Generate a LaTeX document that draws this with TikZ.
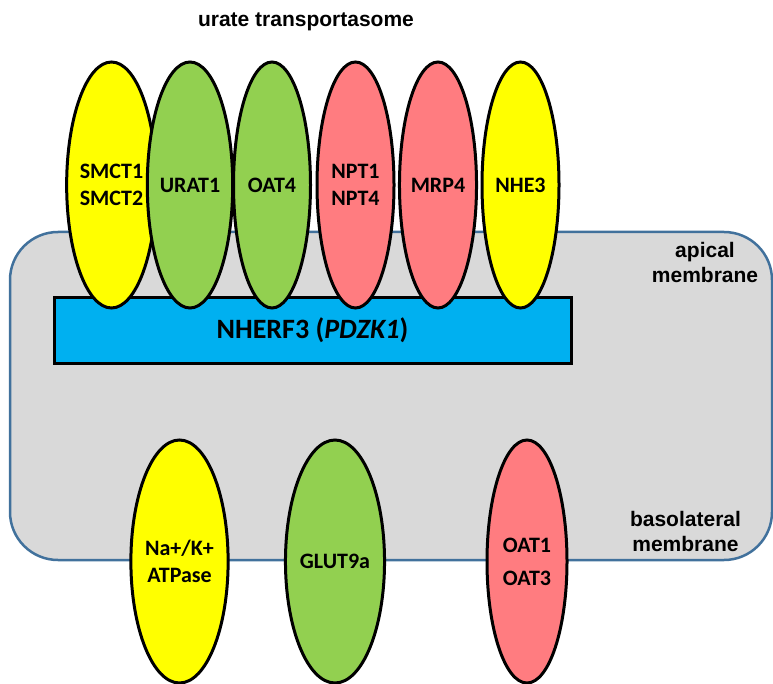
\documentclass[tikz,border=0pt]{standalone}
\usepackage{fontspec}
\setmainfont{Carlito}
\newfontfamily\arialfont{Liberation Sans}
\usetikzlibrary{shapes.geometric}
\definecolor{cyel}{HTML}{FFFF00}
\definecolor{cgrn}{HTML}{92D050}
\definecolor{cred}{HTML}{FF7C80}
\definecolor{ccell}{HTML}{D9D9D9}
\definecolor{cedge}{HTML}{41719C}
\definecolor{cblue}{HTML}{00B0F0}
\pgfdeclareradialshading{shyel}{\pgfpoint{0bp}{0bp}}{color(0bp)=(cyel); color(43bp)=(cyel); color(50bp)=(cyel!62!black)}
\pgfdeclareradialshading{shgrn}{\pgfpoint{0bp}{0bp}}{color(0bp)=(cgrn); color(43bp)=(cgrn); color(50bp)=(cgrn!62!black)}
\pgfdeclareradialshading{shred}{\pgfpoint{0bp}{0bp}}{color(0bp)=(cred); color(43bp)=(cred); color(50bp)=(cred!62!black)}
\begin{document}
\begin{tikzpicture}[x=1pt,y=-1pt,
  prot/.style={ellipse, draw=black, line width=3pt, inner sep=0pt, align=center,
    font=\fontsize{22}{27}\selectfont\bfseries},
  topprot/.style={prot, minimum width=77pt, minimum height=246pt},
  botprot/.style={prot, minimum height=243pt},
  yel/.style={shading=shyel},
  grn/.style={shading=shgrn},
  red/.style={shading=shred},
  lbl/.style={font=\arialfont\bfseries\fontsize{21}{25}\selectfont, inner sep=0pt, align=center}
]
\useasboundingbox (0,0) rectangle (773,684);
% cell
\node[draw=cedge, fill=ccell, line width=2.5pt, rounded corners=48pt,
  minimum width=762pt, minimum height=328pt, inner sep=0pt] (cell) at (391,396) {};
% scaffold
\node[draw=black, fill=cblue, line width=3pt, minimum width=517pt, minimum height=65pt,
  inner sep=0pt, font=\fontsize{28}{32}\selectfont\bfseries] (nherf) at (312.5,330.5) {NHERF3 (\textit{PDZK1})};
% apical transporters
\node[topprot, yel] (e1) at (111.5,185) {SMCT1\\SMCT2};
\node[topprot, grn] (e2) at (190,185) {URAT1};
\node[topprot, grn] (e3) at (272,185) {OAT4};
\node[topprot, red] (e4) at (355.5,185) {NPT1\\NPT4};
\node[topprot, red] (e5) at (438,185) {MRP4};
\node[topprot, yel] (e6) at (520.5,185) {NHE3};
% basolateral transporters
\node[botprot, yel, minimum width=95pt] (b1) at (179.5,561.5) {Na+/K+\\ATPase};
\node[botprot, grn, minimum width=96pt] (b2) at (335,561.5) {GLUT9a};
\node[botprot, red, minimum width=80pt] (b3) at (527,561.5) {OAT1\\[6pt]OAT3};
% labels
\node[lbl, anchor=base] (title) at (306,27) {urate transportasome};
\node[lbl, anchor=north] (apical) at (705,242) {apical\\membrane};
\node[lbl, anchor=north] (baso) at (685.5,511) {basolateral\\membrane};
\end{tikzpicture}
\end{document}
